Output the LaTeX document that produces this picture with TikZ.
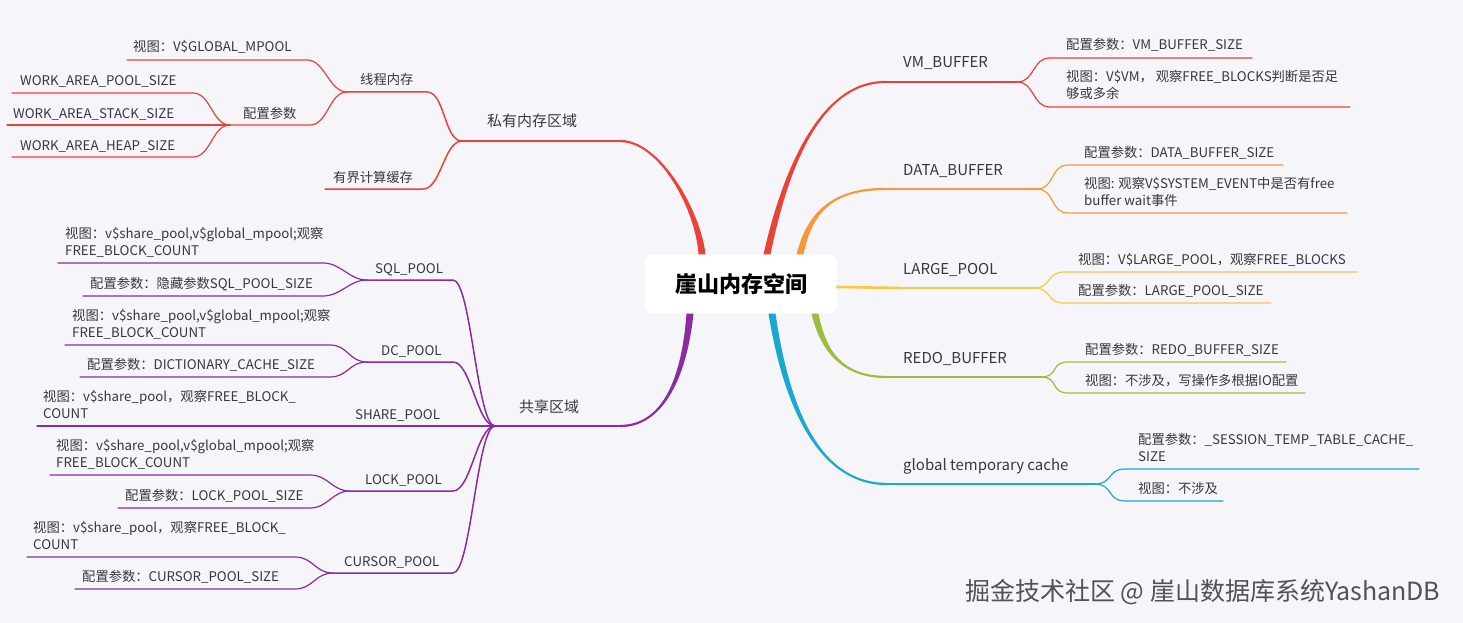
\documentclass[tikz,border=0pt]{standalone}
\usepackage{fontspec}
\setmainfont{Noto Sans CJK SC}
\usetikzlibrary{calc}

\definecolor{bgc}{RGB}{245,245,250}
\definecolor{redb}{RGB}{233,66,56}
\definecolor{orab}{RGB}{246,152,58}
\definecolor{yelb}{RGB}{249,200,68}
\definecolor{greb}{RGB}{156,190,62}
\definecolor{cyab}{RGB}{24,168,208}
\definecolor{purb}{RGB}{138,44,160}
\definecolor{txt}{RGB}{55,55,60}

% tapered main branch: colour, from, control 1, control 2, to, side
\newcommand\branch[6]{%
  \fill[#1] ($(#2)+(-3.5,0)$) .. controls ($(#3)+(-2.5,0)$) and ($(#4)+(0,{#6*1.2})$) .. ($(#5)+(0,{#6*1.1})$)
    -- ($(#5)+(0,{-#6*1.1})$) .. controls ($(#4)+(0,{-#6*1.2})$) and ($(#3)+(2.5,0)$) .. ($(#2)+(3.5,0)$) -- cycle;}

\begin{document}
\begin{tikzpicture}[x=1pt,y=-1pt,line cap=round,line join=round,
  l1/.style={anchor=base west,inner sep=0,font=\fontsize{15}{18}\selectfont,text=txt},
  l2/.style={anchor=base west,inner sep=0,font=\fontsize{13.3}{17}\selectfont,text=txt},
  leaf/.style={l2,align=left},
  lineA/.style={line width=2pt},
  lineB/.style={line width=1.5pt},
  lineC/.style={line width=1.2pt},
  toR/.style={to path={.. controls +(18,0) and +(-18,0) .. (\tikztotarget)}},
  toL/.style={to path={.. controls +(-18,0) and +(18,0) .. (\tikztotarget)}}]
\fill[bgc] (0,0) rectangle (1463,623);
\useasboundingbox (0,0) rectangle (1463,623);

\node[fill=white,rounded corners=8pt,minimum width=192pt,minimum height=59pt,inner sep=0,
  font=\fontsize{22}{26}\selectfont\bfseries] (root) at (741,284) {崖山内存空间};

% VM_BUFFER
\coordinate (vmS) at ($(root.north)+(26,0)$);
\coordinate (vmL) at (885,82);
\coordinate (vmR) at (1017,82);
\branch{redb}{vmS}{785,170}{820,82}{vmL}{-1}
\draw[lineA,redb] (vmL) -- (vmR);
\node[l1] (vm) at (903,68) {VM\_BUFFER};
\coordinate (vmaL) at (1050,58);
\coordinate (vmaR) at (1252,58);
\draw[lineC,redb,toR] (vmR) to (vmaL) -- (vmaR);
\node[leaf] (vma) at (1066,50) {配置参数：VM\_BUFFER\_SIZE};
\coordinate (vmbL) at (1050,107);
\coordinate (vmbR) at (1350,107);
\draw[lineC,redb,toR] (vmR) to (vmbL) -- (vmbR);
\node[leaf] (vmb) at (1066,99) {视图：V\$VM， 观察FREE\_BLOCKS判断是否足\\够或多余};

% DATA_BUFFER
\coordinate (dbS) at ($(root.north)+(59,0)$);
\coordinate (dbL) at (885,189);
\coordinate (dbR) at (1037,189);
\branch{orab}{dbS}{810,210}{835,189}{dbL}{-1}
\draw[lineA,orab] (dbL) -- (dbR);
\node[l1] (db) at (903,175) {DATA\_BUFFER};
\coordinate (dbaL) at (1068,165);
\coordinate (dbaR) at (1283,165);
\draw[lineC,orab,toR] (dbR) to (dbaL) -- (dbaR);
\node[leaf] (dba) at (1084,157) {配置参数：DATA\_BUFFER\_SIZE};
\coordinate (dbbL) at (1068,213);
\coordinate (dbbR) at (1347,213);
\draw[lineC,orab,toR] (dbR) to (dbbL) -- (dbbR);
\node[leaf] (dbb) at (1084,205) {视图: 观察V\$SYSTEM\_EVENT中是否有free\\buffer wait事件};

% LARGE_POOL
\coordinate (lpL) at ($(root.east)+(0,3)$);
\coordinate (lpR) at (1034,288);
\draw[yelb,line width=2.6pt] (lpL) -- (900,288);
\draw[lineA,yelb] (900,288) -- (lpR);
\node[l1] (lp) at (903,274) {LARGE\_POOL};
\coordinate (lpaL) at (1064,272);
\coordinate (lpaR) at (1357,272);
\draw[lineC,yelb,toR] (lpR) to (lpaL) -- (lpaR);
\node[leaf] (lpa) at (1078,264) {视图：V\$LARGE\_POOL，观察FREE\_BLOCKS};
\coordinate (lpbL) at (1064,303);
\coordinate (lpbR) at (1271,303);
\draw[lineC,yelb,toR] (lpR) to (lpbL) -- (lpbR);
\node[leaf] (lpb) at (1078,295) {配置参数：LARGE\_POOL\_SIZE};

% REDO_BUFFER
\coordinate (rbS) at ($(root.south)+(74,0)$);
\coordinate (rbL) at (887,377);
\coordinate (rbR) at (1041,377);
\branch{greb}{rbS}{825,360}{850,377}{rbL}{1}
\draw[lineA,greb] (rbL) -- (rbR);
\node[l1] (rb) at (903,363) {REDO\_BUFFER};
\coordinate (rbaL) at (1068,362);
\coordinate (rbaR) at (1286,362);
\draw[lineC,greb,toR] (rbR) to (rbaL) -- (rbaR);
\node[leaf] (rba) at (1085,354) {配置参数：REDO\_BUFFER\_SIZE};
\coordinate (rbbL) at (1068,393);
\coordinate (rbbR) at (1305,393);
\draw[lineC,greb,toR] (rbR) to (rbbL) -- (rbbR);
\node[leaf] (rbb) at (1085,385) {视图：不涉及，写操作多根据IO配置};

% global temporary cache
\coordinate (gtS) at ($(root.south)+(31,0)$);
\coordinate (gtL) at (887,484);
\coordinate (gtR) at (1095,484);
\branch{cyab}{gtS}{790,430}{830,484}{gtL}{1}
\draw[lineA,cyab] (gtL) -- (gtR);
\node[l1] (gt) at (903,470) {global temporary cache};
\coordinate (gtaL) at (1125,469);
\coordinate (gtaR) at (1419,469);
\draw[lineC,cyab,toR] (gtR) to (gtaL) -- (gtaR);
\node[leaf] (gta) at (1138,461) {配置参数：\_SESSION\_TEMP\_TABLE\_CACHE\_\\SIZE};
\coordinate (gtbL) at (1125,501);
\coordinate (gtbR) at (1223,501);
\draw[lineC,cyab,toR] (gtR) to (gtbL) -- (gtbR);
\node[leaf] (gtb) at (1138,493) {视图：不涉及};

% 私有内存区域
\coordinate (pvS) at ($(root.north)+(-39,0)$);
\coordinate (pvR) at (620,141);
\coordinate (pvL) at (462,141);
\branch{redb}{pvS}{698,210}{660,141}{pvR}{1}
\draw[lineA,redb] (pvR) -- (pvL);
\node[l1] (pv) at (487,127) {私有内存区域};
\coordinate (thR) at (427,92);
\coordinate (thL) at (347,92);
\draw[lineB,redb,toL] (pvL) to (thR) -- (thL);
\node[l2] (th) at (360,85) {线程内存};
\coordinate (bcR) at (423,189);
\coordinate (bcL) at (325,189);
\draw[lineB,redb,toL] (pvL) to (bcR) -- (bcL);
\node[l2] (bc) at (333,182) {有界计算缓存};
\coordinate (gmR) at (307,60);
\coordinate (gmL) at (127,60);
\draw[lineC,redb,toL] (thL) to (gmR) -- (gmL);
\node[leaf] (gm) at (133,52) {视图：V\$GLOBAL\_MPOOL};
\coordinate (cfR) at (310,125);
\coordinate (cfL) at (230,125);
\draw[lineC,redb,toL] (thL) to (cfR) -- (cfL);
\node[l2] (cf) at (243,118) {配置参数};
\coordinate (wpR) at (193,93);
\coordinate (wpL) at (12,93);
\draw[lineC,redb,toL] (cfL) to (wpR) -- (wpL);
\node[leaf] (wp) at (20,86) {WORK\_AREA\_POOL\_SIZE};
\coordinate (wsR) at (193,125);
\coordinate (wsL) at (7,125);
\draw[lineC,redb] (cfL) -- (wsR) -- (wsL);
\node[leaf] (ws) at (13,118) {WORK\_AREA\_STACK\_SIZE};
\coordinate (whR) at (193,157);
\coordinate (whL) at (12,157);
\draw[lineC,redb,toL] (cfL) to (whR) -- (whL);
\node[leaf] (wh) at (20,150) {WORK\_AREA\_HEAP\_SIZE};

% 共享区域
\coordinate (shS) at ($(root.south)+(-51,0)$);
\coordinate (shR) at (620,426);
\coordinate (shL) at (495,426);
\branch{purb}{shS}{684,380}{662,426}{shR}{-1}
\draw[lineA,purb] (shR) -- (shL);
\node[l1] (sh) at (519,412) {共享区域};

% SQL_POOL
\coordinate (sqR) at (453,280);
\coordinate (sqL) at (367,280);
\draw[lineB,purb,toL] (shL) to (sqR) -- (sqL);
\node[l2] (sq) at (375,273) {SQL\_POOL};
\coordinate (sqaR) at (323,263);
\coordinate (sqaL) at (58,263);
\draw[lineC,purb,toL] (sqL) to (sqaR) -- (sqaL);
\node[leaf] (sqa) at (65,255) {视图：v\$share\_pool,v\$global\_mpool;观察\\FREE\_BLOCK\_COUNT};
\coordinate (sqbR) at (323,296);
\coordinate (sqbL) at (83,296);
\draw[lineC,purb,toL] (sqL) to (sqbR) -- (sqbL);
\node[leaf] (sqb) at (90,288) {配置参数：隐藏参数SQL\_POOL\_SIZE};

% DC_POOL
\coordinate (dcR) at (453,362);
\coordinate (dcL) at (367,362);
\draw[lineB,purb,toL] (shL) to (dcR) -- (dcL);
\node[l2] (dc) at (381,355) {DC\_POOL};
\coordinate (dcaR) at (330,345);
\coordinate (dcaL) at (65,345);
\draw[lineC,purb,toL] (dcL) to (dcaR) -- (dcaL);
\node[leaf] (dca) at (72,337) {视图：v\$share\_pool,v\$global\_mpool;观察\\FREE\_BLOCK\_COUNT};
\coordinate (dcbR) at (330,377);
\coordinate (dcbL) at (80,377);
\draw[lineC,purb,toL] (dcL) to (dcbR) -- (dcbL);
\node[leaf] (dcb) at (87,369) {配置参数：DICTIONARY\_CACHE\_SIZE};

% SHARE_POOL
\coordinate (spR) at (453,426);
\coordinate (spL) at (347,426);
\draw[lineB,purb] (shL) -- (spR) -- (spL);
\node[l2] (sp) at (355,419) {SHARE\_POOL};
\coordinate (spaR) at (305,426);
\coordinate (spaL) at (37,426);
\draw[lineC,purb] (spL) -- (spaR) -- (spaL);
\node[leaf] (spa) at (43,418) {视图：v\$share\_pool，观察FREE\_BLOCK\_\\COUNT};

% LOCK_POOL
\coordinate (lkR) at (453,491);
\coordinate (lkL) at (350,491);
\draw[lineB,purb,toL] (shL) to (lkR) -- (lkL);
\node[l2] (lk) at (365,484) {LOCK\_POOL};
\coordinate (lkaR) at (310,475);
\coordinate (lkaL) at (50,475);
\draw[lineC,purb,toL] (lkL) to (lkaR) -- (lkaL);
\node[leaf] (lka) at (56,467) {视图：v\$share\_pool,v\$global\_mpool;观察\\FREE\_BLOCK\_COUNT};
\coordinate (lkbR) at (310,508);
\coordinate (lkbL) at (118,508);
\draw[lineC,purb,toL] (lkL) to (lkbR) -- (lkbL);
\node[leaf] (lkb) at (125,500) {配置参数：LOCK\_POOL\_SIZE};

% CURSOR_POOL
\coordinate (cuR) at (453,573);
\coordinate (cuL) at (333,573);
\draw[lineB,purb,toL] (shL) to (cuR) -- (cuL);
\node[l2] (cu) at (344,566) {CURSOR\_POOL};
\coordinate (cuaR) at (295,557);
\coordinate (cuaL) at (27,557);
\draw[lineC,purb,toL] (cuL) to (cuaR) -- (cuaL);
\node[leaf] (cua) at (33,549) {视图：v\$share\_pool，观察FREE\_BLOCK\_\\COUNT};
\coordinate (cubR) at (295,589);
\coordinate (cubL) at (75,589);
\draw[lineC,purb,toL] (cuL) to (cubR) -- (cubL);
\node[leaf] (cub) at (82,581) {配置参数：CURSOR\_POOL\_SIZE};

% watermark
\node[anchor=base west,inner sep=0,font=\fontsize{25}{29}\selectfont,text=black!68] (mark) at (965,600) {掘金技术社区 @ 崖山数据库系统YashanDB};
\end{tikzpicture}
\end{document}
